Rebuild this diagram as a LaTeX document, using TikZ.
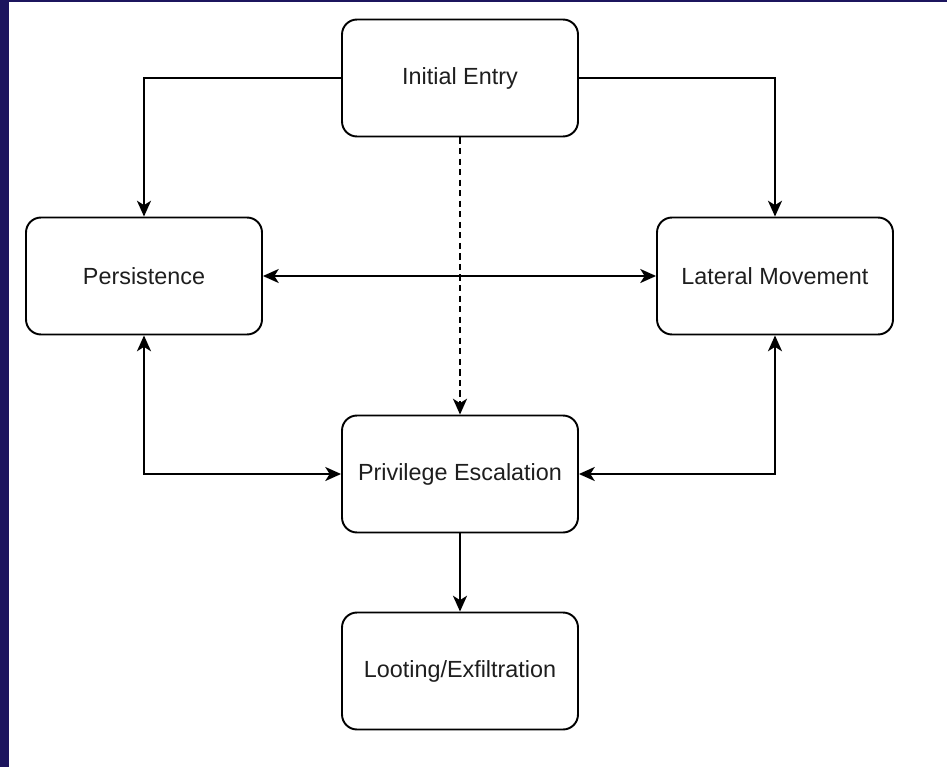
\documentclass[tikz,border=0pt]{standalone}
\usepackage{fontspec}
\setmainfont{Liberation Sans}
\usetikzlibrary{arrows.meta}
\definecolor{frameblue}{RGB}{28,21,94}
\definecolor{labelgray}{RGB}{30,30,30}

\begin{document}
\begin{tikzpicture}[x=0.02cm,y=-0.02cm,
    stage/.style={draw,line width=1.1pt,rounded corners=8.5pt,fill=white,
      minimum width=4.72cm,minimum height=2.34cm,text=labelgray,
      font=\fontsize{13.3}{16}\selectfont},
    flow/.style={line width=1.1pt,-{Stealth[length=9pt,width=8pt,inset=2.5pt]}},
    both/.style={flow,{Stealth[length=9pt,width=8pt,inset=2.5pt]}-{Stealth[length=9pt,width=8pt,inset=2.5pt]}}]
\useasboundingbox (0,0) rectangle (947,767);
\fill[white] (0,0) rectangle (947,767);
\fill[frameblue] (0,0) rectangle (9,767);
\fill[frameblue] (0,0) rectangle (947,2);

\node[stage] (entry) at (460,78) {Initial Entry};
\node[stage] (persist) at (144,276) {Persistence};
\node[stage] (lateral) at (775,276) {Lateral Movement};
\node[stage] (privesc) at (460,474) {Privilege Escalation};
\node[stage] (loot) at (460,671) {Looting/Exfiltration};

\draw[flow] (entry.west) -| (persist.north);
\draw[flow] (entry.east) -| (lateral.north);
\draw[flow,dash pattern=on 3.5pt off 2.5pt] (entry.south) -- (privesc.north);
\draw[both] (persist.east) -- (lateral.west);
\draw[both] (persist.south) |- (privesc.west);
\draw[both] (lateral.south) |- (privesc.east);
\draw[flow] (privesc.south) -- (loot.north);
\end{tikzpicture}
\end{document}
